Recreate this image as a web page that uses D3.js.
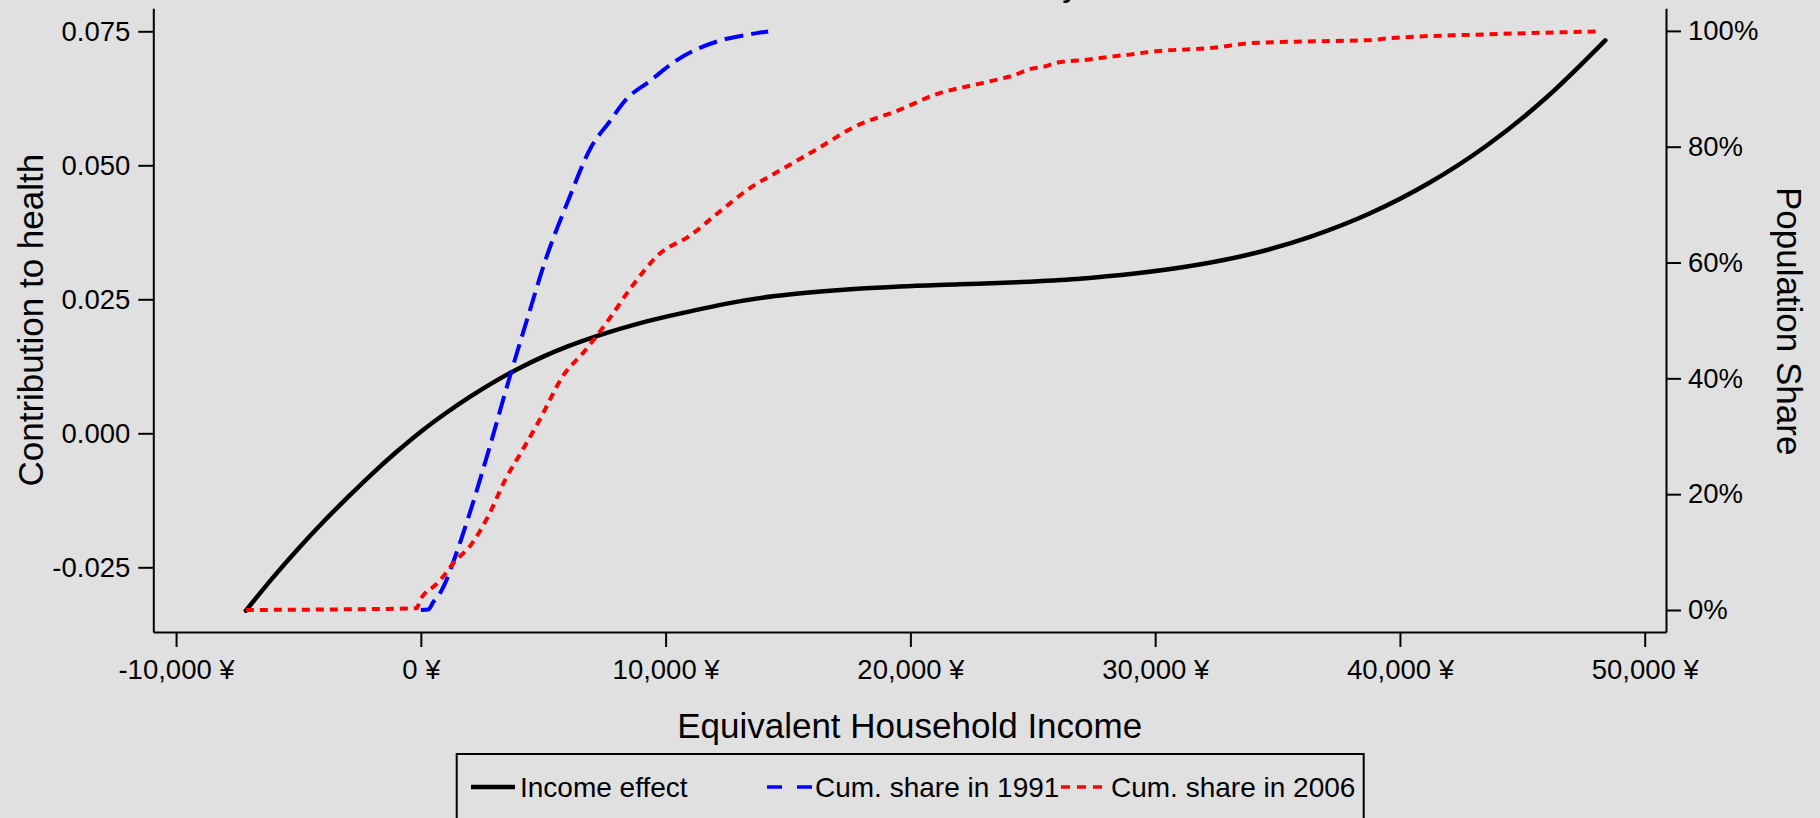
<!DOCTYPE html>
<html>
<head>
<meta charset="utf-8">
<script src="https://cdn.jsdelivr.net/npm/d3@7"></script>
<style>
  html, body { margin: 0; padding: 0; background: #e0e0e0; }
  svg { display: block; }
  text { font-family: Arial, "Liberation Sans", sans-serif; fill: #000; }
</style>
</head>
<body>
<svg id="chart" width="1820" height="818"></svg>
<script>
// ---------- data ----------
const incomeX   = [-7150, -6000, -5000, -4000, -3000, -2000, -1000, 0, 1000, 2000, 3000, 4000, 5000, 6000, 7435, 9000, 10950, 12500, 14470, 17000, 19580, 22000, 24370, 26800, 29170, 31560, 33960, 36360, 38760, 41150, 43550, 45950, 48390];
const incomeEff = [-0.0331, -0.0267, -0.0215, -0.0166, -0.0120, -0.0076, -0.0035, 0.0003, 0.0037, 0.0068, 0.0096, 0.0121, 0.0143, 0.0162, 0.0185, 0.0206, 0.0227, 0.0242, 0.0256, 0.0267, 0.0274, 0.0278, 0.0282, 0.0288, 0.0298, 0.0313, 0.0335, 0.0367, 0.0410, 0.0466, 0.0537, 0.0625, 0.0733];

const share1991X = [0, 306, 511, 784, 989, 1300, 2040, 2740, 3670, 4380, 5090, 6030, 6965, 7670, 8370, 9310, 10480, 12125, 13300, 14190];
const share1991  = [0, 0.1, 1.4, 2.9, 4.6, 8.0, 17.3, 27.1, 40.8, 50.7, 60.4, 70.8, 80.0, 84.1, 88.1, 91.2, 95.0, 98.2, 99.3, 99.9];

const share2006X = [-7150, -3500, -168, -33, 172, 511, 919, 1330, 2040, 2740, 3450, 4150, 4850, 5790, 6730, 7670, 8610, 9780, 10950, 12125, 13530, 14470, 16110, 17750, 19580, 21015, 22845, 23660, 24210, 24890, 25430, 25980, 26520, 27200, 27750, 28290, 28970, 29660, 30330, 31290, 32380, 33960, 36500, 38760, 39470, 43550, 48170];
const share2006  = [0, 0.1, 0.3, 1.7, 2.9, 4.0, 5.8, 8.1, 11.2, 16.1, 22.5, 27.6, 32.8, 40.3, 44.9, 50.1, 55.8, 61.6, 64.5, 68.5, 73.1, 75.4, 79.4, 83.5, 86.4, 89.0, 90.9, 91.7, 92.3, 93.4, 93.8, 94.5, 94.8, 95.0, 95.3, 95.6, 95.9, 96.3, 96.6, 96.8, 97.1, 97.9, 98.2, 98.4, 98.7, 99.4, 99.9];

const xTicks      = [-10000, 0, 10000, 20000, 30000, 40000, 50000];
const yLeftTicks  = [-0.025, 0, 0.025, 0.05, 0.075];
const yRightTicks = [0, 20, 40, 60, 80, 100];

const seriesNames = ["Income effect", "Cum. share in 1991", "Cum. share in 2006"];
const xTitle = "Equivalent Household Income";
const yLeftTitle = "Contribution to health";
const yRightTitle = "Population Share";

// ---------- layout ----------
const svg = d3.select("#chart");
const L = 153.3, R = 1666, T = 8.3, B = 632;

const loc = d3.formatLocale({decimal: ".", thousands: ",", grouping: [3], currency: ["", " ¥"], minus: "-"});

const x  = d3.scaleLinear().domain([-10930, 50870]).range([L, R]);
const yL = d3.scaleLinear().domain([-0.03707, 0.07929]).range([B, T]);
const yR = d3.scaleLinear().domain([-3.8, 103.9]).range([B, T]);

svg.append("rect").attr("width", 1820).attr("height", 818).attr("fill", "#e0e0e0");

// partially visible title (only the descender shows in the reference)
svg.append("text").attr("x", 1071).attr("y", -4).attr("text-anchor", "middle")
  .style("font-size", "35px").text("y");

const tickFont = "27.5px";

const gx = svg.append("g").attr("transform", `translate(0,${B})`)
  .call(d3.axisBottom(x).tickValues(xTicks).tickSizeInner(15).tickSizeOuter(0).tickPadding(12)
    .tickFormat(d => loc.format(",")(d) + " ¥"));
const gl = svg.append("g").attr("transform", `translate(${L},0)`)
  .call(d3.axisLeft(yL).tickValues(yLeftTicks).tickSizeInner(15).tickSizeOuter(0).tickPadding(8)
    .tickFormat(loc.format(".3f")));
const gr = svg.append("g").attr("transform", `translate(${R},0)`)
  .call(d3.axisRight(yR).tickValues(yRightTicks).tickSizeInner(15).tickSizeOuter(0).tickPadding(7)
    .tickFormat(d => d + "%"));

[gx, gl, gr].forEach(g => {
  g.selectAll(".domain").attr("stroke", "#000").attr("stroke-width", 2);
  g.selectAll(".tick line").attr("stroke", "#000").attr("stroke-width", 2);
  g.selectAll(".tick text").style("font-size", tickFont).style("font-family", "Arial, 'Liberation Sans', sans-serif").attr("fill", "#000");
});
gx.selectAll(".tick text").attr("dy", "0.71em");

// axis titles
svg.append("text").attr("x", (L + R) / 2).attr("y", 738).attr("text-anchor", "middle")
  .style("font-size", "35px").text(xTitle);
svg.append("text").attr("transform", `translate(42.7,${(T + B) / 2}) rotate(-90)`).attr("text-anchor", "middle")
  .style("font-size", "35px").text(yLeftTitle);
svg.append("text").attr("transform", `translate(1777,${(T + B) / 2 + 1}) rotate(90)`).attr("text-anchor", "middle")
  .style("font-size", "35px").text(yRightTitle);

// ---------- lines ----------
const lineL = d3.line().x(d => x(d[0])).y(d => yL(d[1])).curve(d3.curveMonotoneX);
const lineR = d3.line().x(d => x(d[0])).y(d => yR(d[1])).curve(d3.curveMonotoneX);

svg.append("path").datum(d3.zip(incomeX, incomeEff)).attr("d", lineL)
  .attr("fill", "none").attr("stroke", "#000").attr("stroke-width", 4.5).attr("stroke-linejoin", "round").attr("stroke-linecap", "round");
svg.append("path").datum(d3.zip(share1991X, share1991)).attr("d", lineR)
  .attr("fill", "none").attr("stroke", "#0000ff").attr("stroke-width", 4).attr("stroke-dasharray", "19,8");
svg.append("path").datum(d3.zip(share2006X, share2006)).attr("d", lineR)
  .attr("fill", "none").attr("stroke", "#ff0000").attr("stroke-width", 4).attr("stroke-dasharray", "8,6");

// ---------- legend ----------
const lg = svg.append("g");
lg.append("rect").attr("x", 456.7).attr("y", 754).attr("width", 907).attr("height", 120)
  .attr("fill", "none").attr("stroke", "#000").attr("stroke-width", 2);
const legendItems = [
  {name: seriesNames[0], color: "#000", dash: null, w: 4.5, x0: 471, x1: 515, tx: 520},
  {name: seriesNames[1], color: "#0000ff", dash: "15,15", w: 3.5, x0: 767, x1: 812, tx: 815},
  {name: seriesNames[2], color: "#ff0000", dash: "9,7", w: 3.5, x0: 1061, x1: 1103, tx: 1111}
];
legendItems.forEach(it => {
  lg.append("line").attr("x1", it.x0).attr("x2", it.x1).attr("y1", 787).attr("y2", 787)
    .attr("stroke", it.color).attr("stroke-width", it.w).attr("stroke-dasharray", it.dash);
  lg.append("text").attr("x", it.tx).attr("y", 797).style("font-size", "28px").text(it.name);
});
</script>
</body>
</html>
